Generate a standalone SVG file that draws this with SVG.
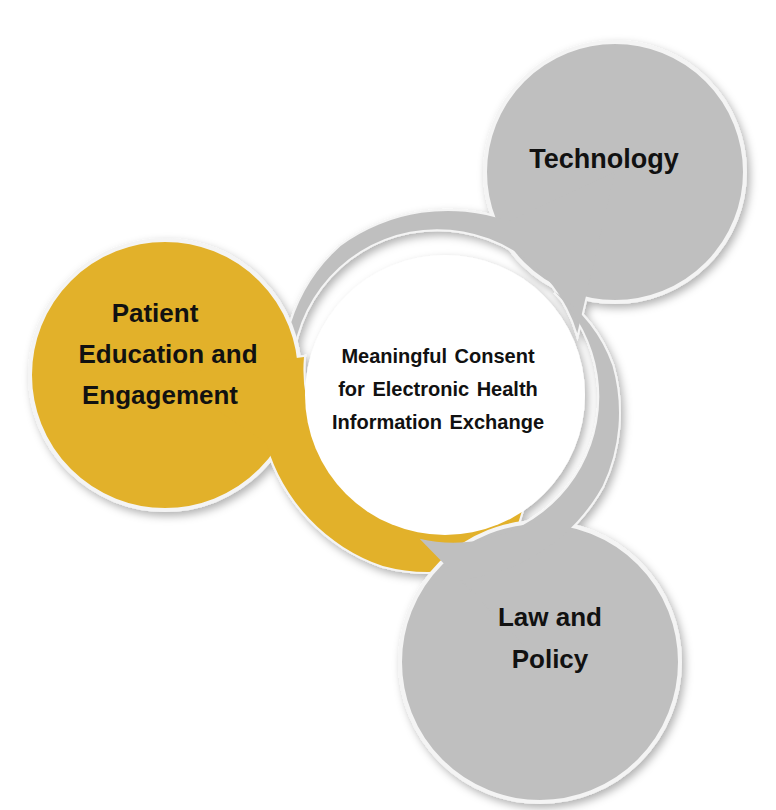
<svg xmlns="http://www.w3.org/2000/svg" width="776" height="810" viewBox="0 0 776 810">
<defs>
<filter id="sh" x="-20%" y="-20%" width="140%" height="140%"><feDropShadow dx="3" dy="4" stdDeviation="4" flood-color="#000" flood-opacity="0.3"/></filter>
<style>
.g{fill:#bfbfbf;stroke:#f4f4f4;stroke-width:4}
.y{fill:#e2b12b;stroke:#f4f4f4;stroke-width:4}
.gf{fill:#bfbfbf}
.yf{fill:#e2b12b}
.t{font-family:"Liberation Sans",Arial,sans-serif;font-weight:bold;fill:#111;text-anchor:middle}
</style>
<path id="tt" d="M615,172 L508.3,221.2 A182,182 0 0 0 340.6,245.9 A172,172 0 0 0 290.9,323.2 A150,150 0 0 0 292,388 A146,146 0 0 1 577.3,333.3 Z"/>
<path id="pt" d="M165,375 L266.3,442.9 A182,182 0 0 0 382.8,566 A172,172 0 0 0 503.1,554.7 A150,150 0 0 0 525,495 A146,146 0 0 1 304,357 Z"/>
<path id="lt" d="M540,662 L461.1,579.3 A182,182 0 0 0 602.6,486 A172,172 0 0 0 612.4,365.5 A150,150 0 0 0 555,292 A146,146 0 0 1 419.6,538.8 Z"/>
</defs>
<rect width="776" height="810" fill="#fff"/>
<g filter="url(#sh)">
<g id="connectors">
<use href="#tt" class="g"/>
<use href="#pt" class="y"/>
<use href="#lt" class="g"/>
</g>
<g id="technology">
<circle class="g" cx="615" cy="172" r="130"/>
<use href="#tt" class="gf"/>
</g>
<g id="patient">
<circle class="y" cx="165" cy="375" r="135"/>
<use href="#pt" class="yf"/>
</g>
<g id="law">
<circle class="g" cx="540" cy="662" r="140"/>
<use href="#lt" class="gf"/>
</g>
<g id="center">
<circle cx="445" cy="395" r="140" fill="#fff"/>
</g>
</g>
<text class="t" font-size="20" word-spacing="2"><tspan x="438" y="363">Meaningful Consent</tspan><tspan x="438" y="396">for Electronic Health</tspan><tspan x="438" y="429">Information Exchange</tspan></text>
<text class="t" font-size="27" x="604" y="168">Technology</text>
<text class="t" font-size="26"><tspan x="155" y="322">Patient</tspan><tspan x="168" y="363">Education and</tspan><tspan x="160" y="404">Engagement</tspan></text>
<text class="t" font-size="26"><tspan x="550" y="626">Law and</tspan><tspan x="550" y="668">Policy</tspan></text>
</svg>
